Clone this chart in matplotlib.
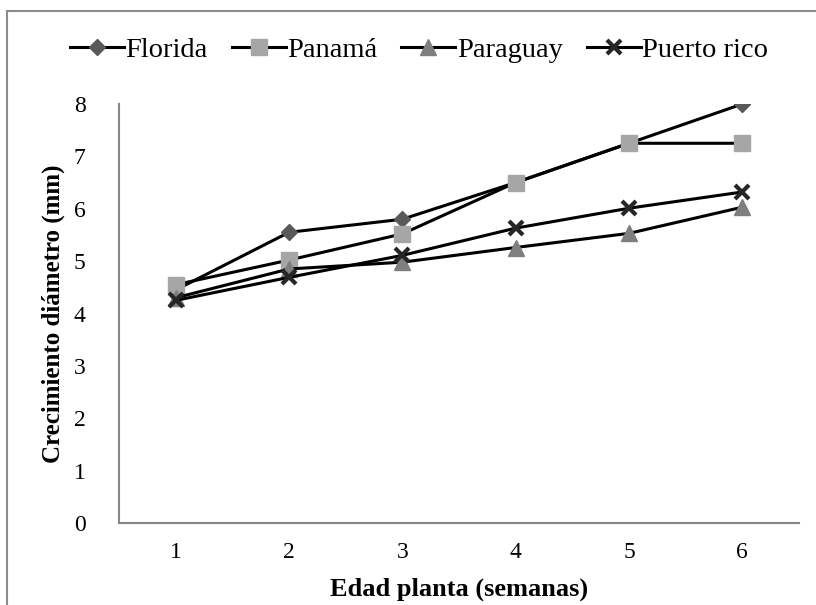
import matplotlib
matplotlib.use("Agg")
import matplotlib.pyplot as plt
from matplotlib.patches import Rectangle

weeks = [1, 2, 3, 4, 5, 6]
florida = [4.45, 5.55, 5.8, 6.5, 7.25, 8.0]
panama = [4.55, 5.02, 5.52, 6.5, 7.25, 7.25]
paraguay = [4.3, 4.85, 4.98, 5.26, 5.53, 6.03]
puerto_rico = [4.25, 4.69, 5.11, 5.63, 6.01, 6.32]
series_names = ["Florida", "Panamá", "Paraguay", "Puerto rico"]
y_ticks = [0, 1, 2, 3, 4, 5, 6, 7, 8]

plt.rcParams['font.family'] = ['Liberation Serif', 'DejaVu Serif']

fig = plt.figure(figsize=(8.16, 6.05), dpi=100)
ax = fig.add_axes([119/816, 1-523/605, (799-119)/816, (523-104)/605])

# outer chart border
fig.patches.append(Rectangle((7/816, -0.1), 1.2, 1 - 11/605 + 0.1, transform=fig.transFigure,
                             fill=False, edgecolor='#8c8c8c', linewidth=1.5, zorder=0))

styles = [
    dict(marker='D', color='black', markerfacecolor='#595959', markeredgecolor='#595959', markersize=8.5),
    dict(marker='s', color='black', markerfacecolor='#a6a6a6', markeredgecolor='#a6a6a6', markersize=11),
    dict(marker='^', color='black', markerfacecolor='#7f7f7f', markeredgecolor='#7f7f7f', markersize=11),
    dict(marker='x', color='black', markerfacecolor='#262626', markeredgecolor='#262626', markersize=10,
         markeredgewidth=3),
]
data = [florida, panama, paraguay, puerto_rico]
handles = []
for name, vals, st in zip(series_names, data, styles):
    ln, = ax.plot(weeks, vals, linewidth=2.2, label=name, **st)
    handles.append(ln)

ax.set_xlim(0.5, 6.5)
ax.set_ylim(0, 8)
ax.set_xticks(weeks)
ax.set_yticks(y_ticks)
ax.tick_params(axis='both', length=0, labelsize=17)
ax.tick_params(axis='x', pad=14)
ax.tick_params(axis='y', pad=24)
for s in ['top', 'right']:
    ax.spines[s].set_visible(False)
for s in ['left', 'bottom']:
    ax.spines[s].set_color('#868686')
    ax.spines[s].set_linewidth(1.5)

ax.set_xlabel("Edad planta (semanas)", fontsize=19, fontweight='bold', labelpad=10)
ax.set_ylabel("Crecimiento diámetro (mm)", fontsize=18, fontweight='bold', labelpad=6)

fig.legend(handles=handles, loc='center', bbox_to_anchor=(419/816, 1-50/605), ncol=4,
           frameon=False, fontsize=20.5, handlelength=1.9, handletextpad=0.05, columnspacing=0.85)

fig.savefig("out.png", dpi=100)
